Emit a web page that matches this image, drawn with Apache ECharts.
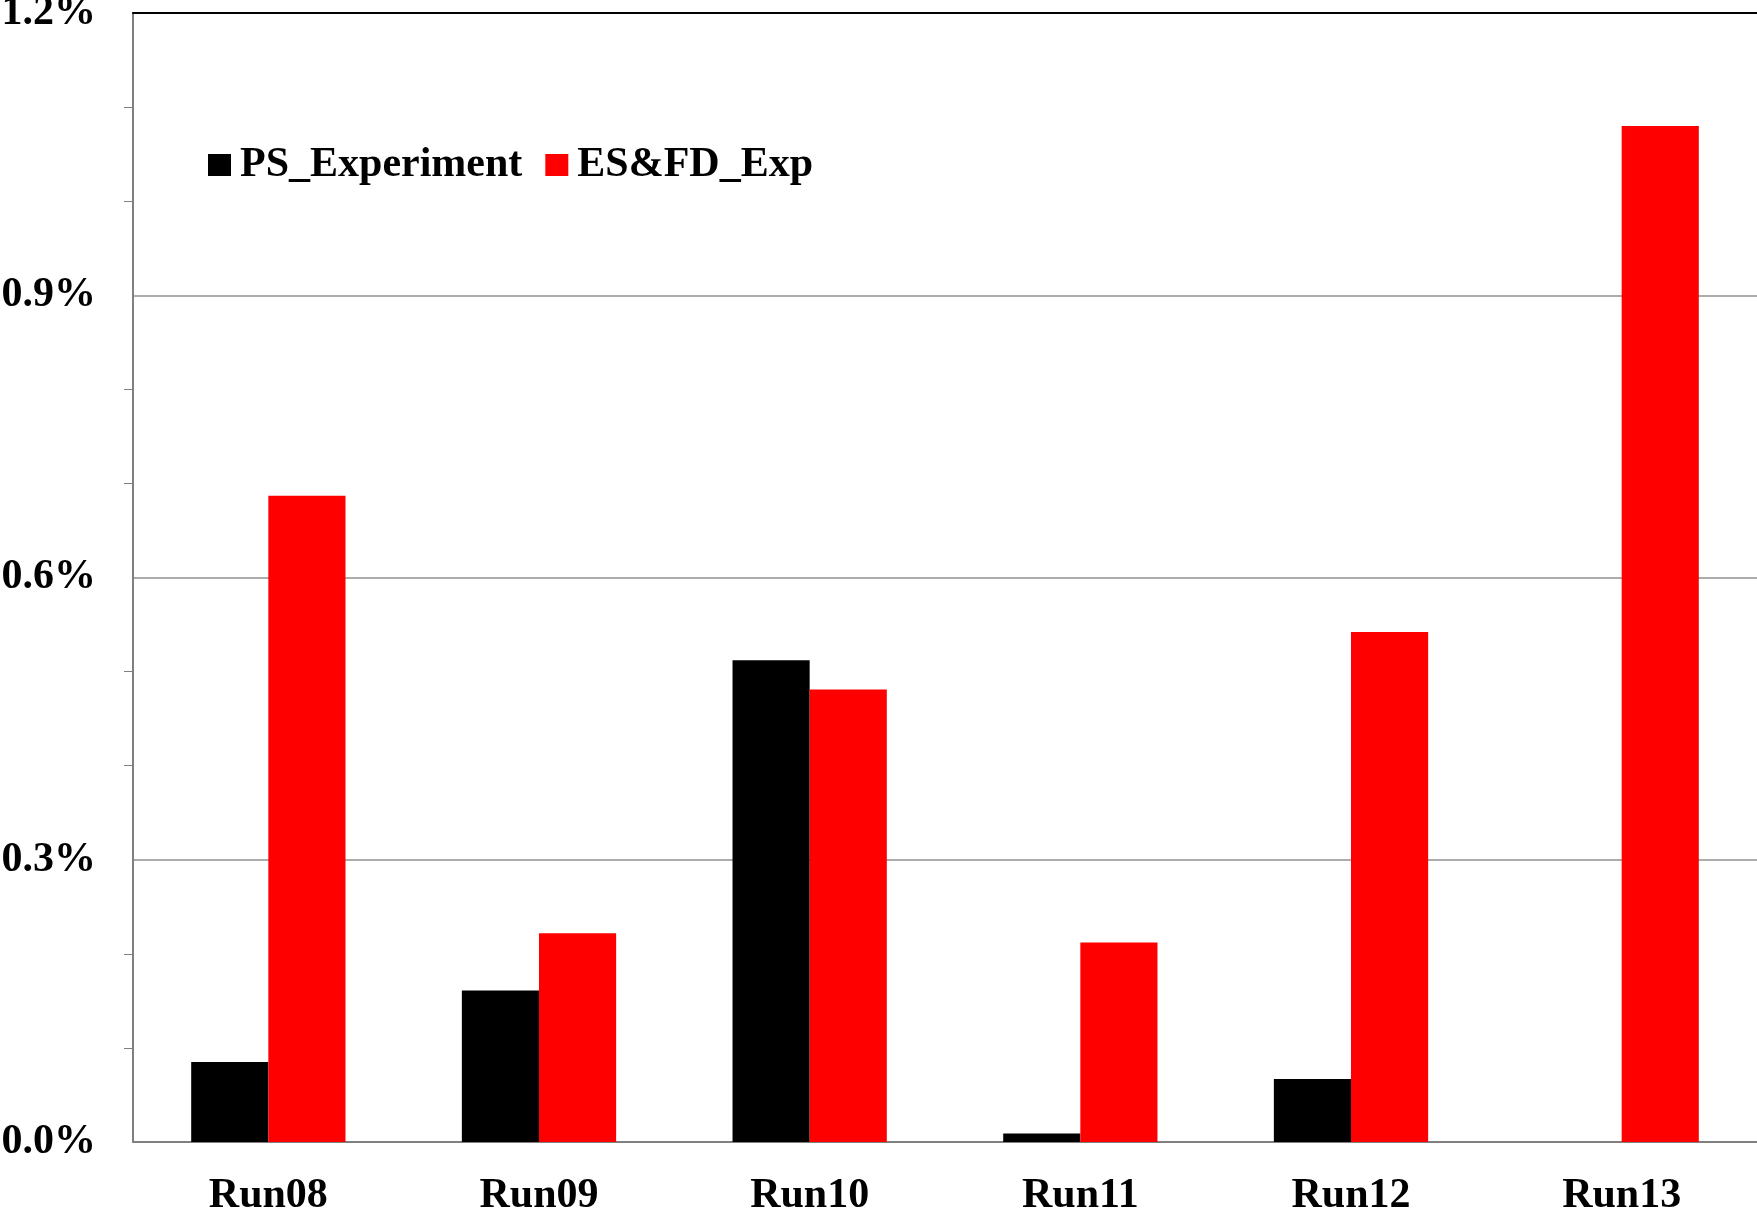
<!DOCTYPE html>
<html>
<head>
<meta charset="utf-8">
<script src="https://cdn.jsdelivr.net/npm/echarts@6/dist/echarts.min.js"></script>
<style>
  html, body { margin: 0; padding: 0; background: #fff; }
  #main { width: 1757px; height: 1214px; }
</style>
</head>
<body>
<div id="main"></div>
<script>
(function () {
    var myChart = echarts.init(document.getElementById('main'));

    // 数据
    var runs = ['Run08', 'Run09', 'Run10', 'Run11', 'Run12', 'Run13'];
    var psExperiment = [0.085, 0.161, 0.512, 0.009, 0.067, 0];
    var esfdExp = [0.687, 0.222, 0.481, 0.212, 0.542, 1.080];
    var seriesNames = ['PS_Experiment', 'ES&FD_Exp'];

    var fontFamily = '"Liberation Serif", "Times New Roman", serif';

    var option = {
        backgroundColor: '#fff',
        animation: false,
        legend: {
            left: 203,
            top: 139,
            itemWidth: 23,
            itemHeight: 22,
            itemGap: 23,
            icon: 'rect',
            data: seriesNames,
            textStyle: {
                fontFamily: fontFamily,
                fontWeight: 'bold',
                fontSize: 42,
                color: '#000',
                padding: [0, 0, 0, 4]
            }
        },
        grid: {
            left: 133,
            right: 0,
            top: 13,
            bottom: 72,
            outerBoundsMode: 'none',
            containLabel: false
        },
        xAxis: [{
            type: 'category',
            data: runs,
            axisLine: { lineStyle: { color: '#808080', width: 2 } },
            axisTick: { show: false },
            axisLabel: {
                margin: 33,
                fontFamily: fontFamily,
                fontWeight: 'bold',
                fontSize: 42,
                color: '#000'
            }
        }, {
            type: 'category',
            data: runs,
            position: 'top',
            axisLine: { lineStyle: { color: '#000', width: 2 } },
            axisTick: { show: false },
            axisLabel: { show: false }
        }],
        yAxis: {
            type: 'value',
            min: 0,
            max: 1.2,
            interval: 0.3,
            axisLine: { show: true, lineStyle: { color: '#808080', width: 2 } },
            axisTick: { show: false },
            minorTick: {
                show: true,
                splitNumber: 3,
                length: 9,
                lineStyle: { color: '#808080', width: 1 }
            },
            splitLine: { lineStyle: { color: '#909090', width: 1.5 } },
            axisLabel: {
                margin: 37,
                padding: [6, 0, 0, 0],
                fontFamily: fontFamily,
                fontWeight: 'bold',
                fontSize: 42,
                color: '#000',
                formatter: function (v) {
                    return v.toFixed(1) + '%';
                }
            }
        },
        series: [{
            name: seriesNames[0],
            type: 'bar',
            data: psExperiment,
            barGap: 0,
            barCategoryGap: '43%',
            itemStyle: { color: '#000' }
        }, {
            name: seriesNames[1],
            type: 'bar',
            data: esfdExp,
            barGap: 0,
            barCategoryGap: '43%',
            itemStyle: { color: '#ff0000' }
        }]
    };
    myChart.setOption(option);
})();
</script>
</body>
</html>
